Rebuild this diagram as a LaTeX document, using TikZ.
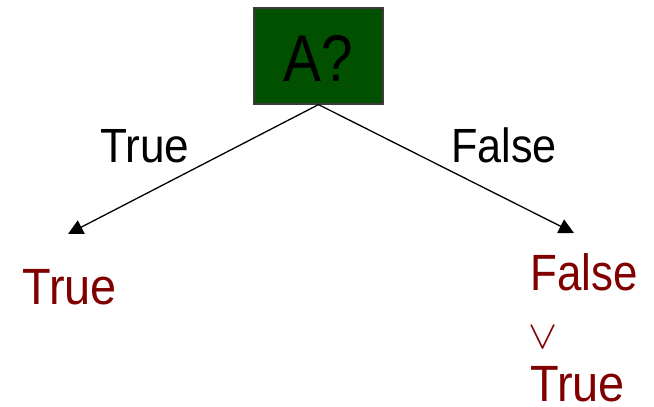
\documentclass[tikz,border=0pt]{standalone}
\usepackage{fontspec}
\setmainfont{Liberation Sans}
\usetikzlibrary{arrows.meta}
\definecolor{boxgreen}{RGB}{0,80,0}
\definecolor{maroon}{RGB}{128,0,0}
\tikzset{
  lbl/.style={inner sep=0pt, anchor=base west, font=\fontsize{48}{48}\selectfont},
  res/.style={lbl, text=maroon, font=\fontsize{51}{51}\selectfont},
  edge/.style={draw=black, line width=1.3pt, -{Triangle[length=15pt,width=15pt]}}
}
\begin{document}
\begin{tikzpicture}[x=1pt,y=-1pt]
\useasboundingbox (0,0) rectangle (654,407);
\node[draw={rgb,255:red,60;green,60;blue,60}, line width=1.2pt, fill=boxgreen, minimum width=129pt, minimum height=96pt, inner sep=0pt] (A) at (318.5,56) {};
\node[inner sep=0pt, anchor=base, font=\fontsize{66}{66}\selectfont] (Atext) at (318.5,81) {\scalebox{0.86}[1]{A?}};
\coordinate (L) at (68,234);
\coordinate (R) at (574,233);
\draw[edge] (A.south) -- (L);
\draw[edge] (A.south) -- (R);
\node[lbl] (tl) at (100,162) {\scalebox{0.92}[1]{True}};
\node[lbl] (fl) at (451,162) {\scalebox{0.9}[1]{False}};
\node[res] (r1) at (22,304) {\scalebox{0.92}[1]{True}};
\node[res] (r2) at (530,290) {\scalebox{0.86}[1]{False}};
\node[inner sep=0pt, anchor=south west, text=maroon] (r3) at (528,349) {\resizebox{29pt}{22pt}{$\vee$}};
\node[res] (r4) at (530,401) {\scalebox{0.92}[1]{True}};
\end{tikzpicture}
\end{document}
